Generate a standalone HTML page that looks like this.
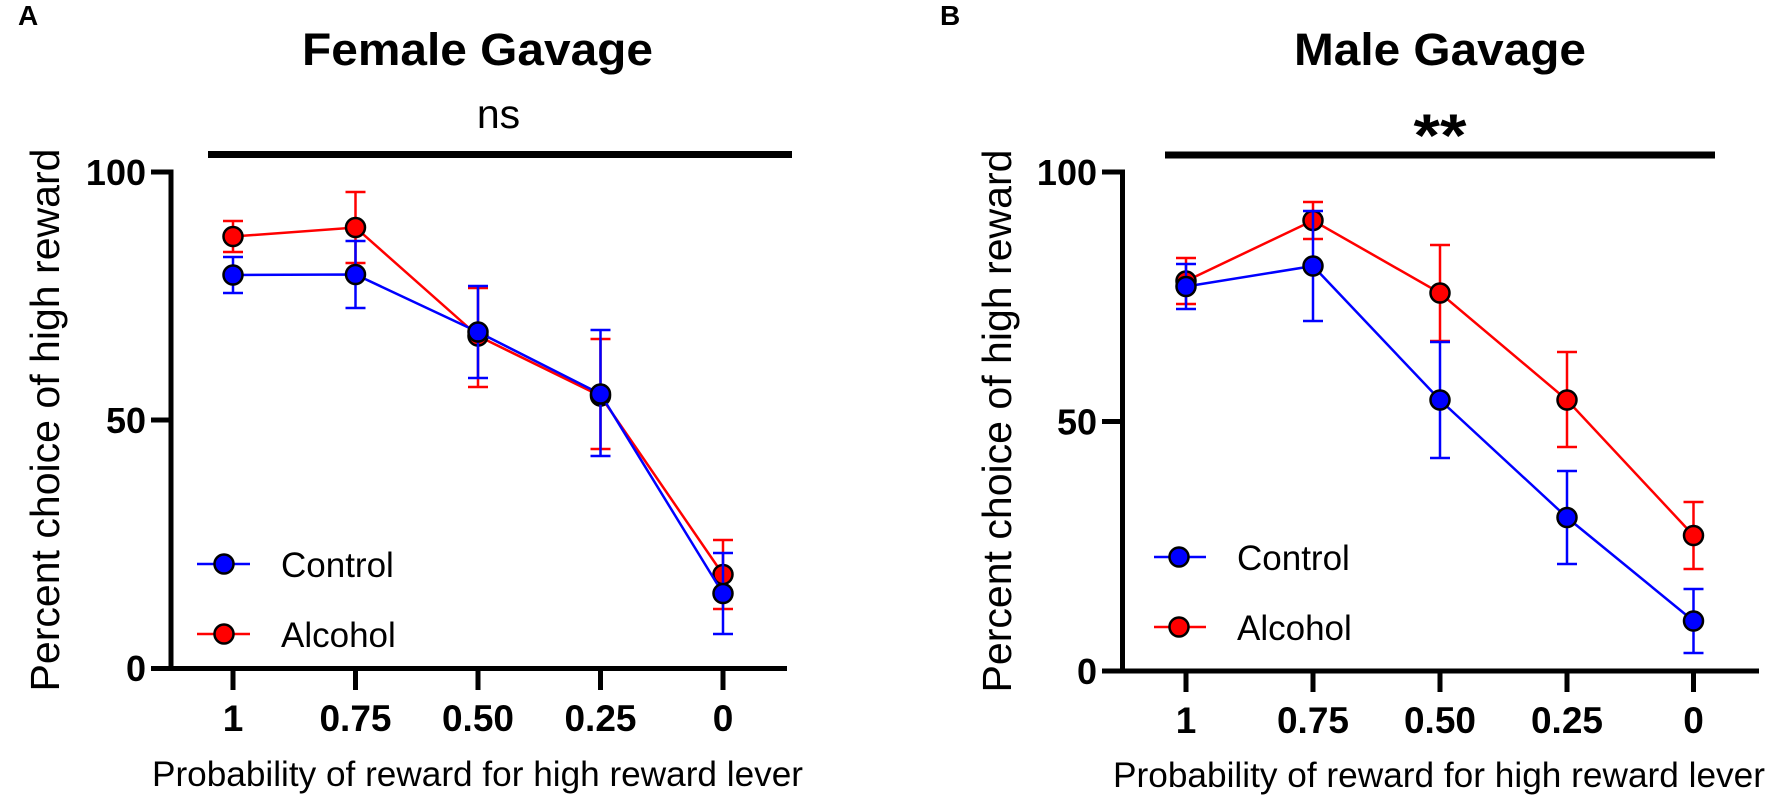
<!DOCTYPE html>
<html>
<head>
<meta charset="utf-8">
<style>
  html, body { margin: 0; padding: 0; background: #ffffff; }
  svg { display: block; }
  text { font-family: "Liberation Sans", Arial, sans-serif; fill: #000; }
</style>
</head>
<body>
<svg width="1773" height="799" viewBox="0 0 1773 799" xmlns="http://www.w3.org/2000/svg">
  <rect x="0" y="0" width="1773" height="799" fill="#fff"/>

  <!-- ================= PANEL A ================= -->
  <text x="18" y="25" font-size="28" font-weight="bold">A</text>
  <text x="477.5" y="65" font-size="45" font-weight="bold" text-anchor="middle" textLength="351" lengthAdjust="spacingAndGlyphs">Female Gavage</text>
  <text x="498.5" y="128" font-size="41" text-anchor="middle">ns</text>
  <rect x="208" y="151" width="584" height="7" fill="#000"/>

  <!-- axes -->
  <path d="M151 172 H171 V668.5" fill="none" stroke="#000" stroke-width="5" stroke-linejoin="miter"/>
  <line x1="151" y1="420" x2="171" y2="420" stroke="#000" stroke-width="5"/>
  <line x1="151" y1="668.5" x2="787" y2="668.5" stroke="#000" stroke-width="5"/>
  <g stroke="#000" stroke-width="5">
    <line x1="233" y1="668" x2="233" y2="690"/>
    <line x1="355.5" y1="668" x2="355.5" y2="690"/>
    <line x1="478" y1="668" x2="478" y2="690"/>
    <line x1="600.5" y1="668" x2="600.5" y2="690"/>
    <line x1="723" y1="668" x2="723" y2="690"/>
  </g>
  <g font-size="36" font-weight="bold" text-anchor="end">
    <text x="146" y="185">100</text>
    <text x="146" y="433">50</text>
    <text x="146" y="681">0</text>
  </g>
  <g font-size="37" font-weight="bold" text-anchor="middle">
    <text x="233" y="731">1</text>
    <text x="355.5" y="731">0.75</text>
    <text x="478" y="731">0.50</text>
    <text x="600.5" y="731">0.25</text>
    <text x="723" y="731">0</text>
  </g>
  <text x="152" y="786" font-size="35" textLength="651" lengthAdjust="spacingAndGlyphs">Probability of reward for high reward lever</text>
  <text transform="translate(59,420) rotate(-90)" font-size="41" text-anchor="middle" textLength="543" lengthAdjust="spacingAndGlyphs">Percent choice of high reward</text>

  <!-- Alcohol series (red) -->
  <g stroke="#ff0000" stroke-width="2.5" fill="none">
    <polyline points="233,236.5 355.5,227.5 478,336 600.5,396 723,574.5"/>
    <path d="M233 221 V252 M223 221 H243 M223 252 H243"/>
    <path d="M355.5 192 V263 M345.5 192 H365.5 M345.5 263 H365.5"/>
    <path d="M478 288 V387 M468 288 H488 M468 387 H488"/>
    <path d="M600.5 339 V449 M590.5 339 H610.5 M590.5 449 H610.5"/>
    <path d="M723 540 V609 M713 540 H733 M713 609 H733"/>
  </g>
  <g fill="#ff0000" stroke="#000" stroke-width="2.5">
    <circle cx="233" cy="236.5" r="9.5"/>
    <circle cx="355.5" cy="227.5" r="9.5"/>
    <circle cx="478" cy="336" r="9.5"/>
    <circle cx="600.5" cy="396" r="9.5"/>
    <circle cx="723" cy="574.5" r="9.5"/>
  </g>
  <!-- Control series (blue) -->
  <g stroke="#0000ff" stroke-width="2.5" fill="none">
    <polyline points="233,275 355.5,274.5 478,332 600.5,394 723,593.5"/>
    <path d="M233 257 V293 M223 257 H243 M223 293 H243"/>
    <path d="M355.5 241 V308 M345.5 241 H365.5 M345.5 308 H365.5"/>
    <path d="M478 286 V378 M468 286 H488 M468 378 H488"/>
    <path d="M600.5 330 V456 M590.5 330 H610.5 M590.5 456 H610.5"/>
    <path d="M723 553 V634 M713 553 H733 M713 634 H733"/>
  </g>
  <g fill="#0000ff" stroke="#000" stroke-width="2.5">
    <circle cx="233" cy="275" r="9.5"/>
    <circle cx="355.5" cy="274.5" r="9.5"/>
    <circle cx="478" cy="332" r="9.5"/>
    <circle cx="600.5" cy="394" r="9.5"/>
    <circle cx="723" cy="593.5" r="9.5"/>
  </g>

  <!-- legend A -->
  <line x1="197" y1="564" x2="250" y2="564" stroke="#0000ff" stroke-width="2.5"/>
  <circle cx="224" cy="564" r="9.5" fill="#0000ff" stroke="#000" stroke-width="2.5"/>
  <text x="281" y="577" font-size="35">Control</text>
  <line x1="197" y1="634" x2="250" y2="634" stroke="#ff0000" stroke-width="2.5"/>
  <circle cx="224" cy="634" r="9.5" fill="#ff0000" stroke="#000" stroke-width="2.5"/>
  <text x="281" y="647" font-size="35">Alcohol</text>

  <!-- ================= PANEL B ================= -->
  <text x="940" y="25" font-size="28" font-weight="bold">B</text>
  <text x="1440" y="65" font-size="45" font-weight="bold" text-anchor="middle" textLength="292" lengthAdjust="spacingAndGlyphs">Male Gavage</text>
  <text x="1440" y="156" font-size="60" font-weight="bold" text-anchor="middle" textLength="53" lengthAdjust="spacingAndGlyphs">**</text>
  <rect x="1165" y="151.5" width="550" height="7" fill="#000"/>

  <path d="M1102 172 H1122.5 V671" fill="none" stroke="#000" stroke-width="5" stroke-linejoin="miter"/>
  <line x1="1102" y1="421.5" x2="1122.5" y2="421.5" stroke="#000" stroke-width="5"/>
  <line x1="1102" y1="671" x2="1759" y2="671" stroke="#000" stroke-width="5"/>
  <g stroke="#000" stroke-width="5">
    <line x1="1186" y1="671" x2="1186" y2="692"/>
    <line x1="1313" y1="671" x2="1313" y2="692"/>
    <line x1="1440" y1="671" x2="1440" y2="692"/>
    <line x1="1567" y1="671" x2="1567" y2="692"/>
    <line x1="1693.5" y1="671" x2="1693.5" y2="692"/>
  </g>
  <g font-size="36" font-weight="bold" text-anchor="end">
    <text x="1097" y="185">100</text>
    <text x="1097" y="434.5">50</text>
    <text x="1097" y="684">0</text>
  </g>
  <g font-size="37" font-weight="bold" text-anchor="middle">
    <text x="1186" y="733">1</text>
    <text x="1313" y="733">0.75</text>
    <text x="1440" y="733">0.50</text>
    <text x="1567" y="733">0.25</text>
    <text x="1693.5" y="733">0</text>
  </g>
  <text x="1113" y="787" font-size="35" textLength="652" lengthAdjust="spacingAndGlyphs">Probability of reward for high reward lever</text>
  <text transform="translate(1011,421) rotate(-90)" font-size="41" text-anchor="middle" textLength="543" lengthAdjust="spacingAndGlyphs">Percent choice of high reward</text>

  <!-- Alcohol (red) -->
  <g stroke="#ff0000" stroke-width="2.5" fill="none">
    <polyline points="1186,281 1313,220.5 1440,293 1567,400 1693.5,535.5"/>
    <path d="M1186 258 V304 M1176 258 H1196 M1176 304 H1196"/>
    <path d="M1313 202 V239 M1303 202 H1323 M1303 239 H1323"/>
    <path d="M1440 245 V341 M1430 245 H1450 M1430 341 H1450"/>
    <path d="M1567 352 V447 M1557 352 H1577 M1557 447 H1577"/>
    <path d="M1693.5 502 V569 M1683.5 502 H1703.5 M1683.5 569 H1703.5"/>
  </g>
  <g fill="#ff0000" stroke="#000" stroke-width="2.5">
    <circle cx="1186" cy="281" r="9.5"/>
    <circle cx="1313" cy="220.5" r="9.5"/>
    <circle cx="1440" cy="293" r="9.5"/>
    <circle cx="1567" cy="400" r="9.5"/>
    <circle cx="1693.5" cy="535.5" r="9.5"/>
  </g>
  <!-- Control (blue) -->
  <g stroke="#0000ff" stroke-width="2.5" fill="none">
    <polyline points="1186,286.5 1313,266 1440,400 1567,517.5 1693.5,621"/>
    <path d="M1186 264 V309 M1176 264 H1196 M1176 309 H1196"/>
    <path d="M1313 211 V321 M1303 211 H1323 M1303 321 H1323"/>
    <path d="M1440 342 V458 M1430 342 H1450 M1430 458 H1450"/>
    <path d="M1567 471 V564 M1557 471 H1577 M1557 564 H1577"/>
    <path d="M1693.5 589 V653 M1683.5 589 H1703.5 M1683.5 653 H1703.5"/>
  </g>
  <g fill="#0000ff" stroke="#000" stroke-width="2.5">
    <circle cx="1186" cy="286.5" r="9.5"/>
    <circle cx="1313" cy="266" r="9.5"/>
    <circle cx="1440" cy="400" r="9.5"/>
    <circle cx="1567" cy="517.5" r="9.5"/>
    <circle cx="1693.5" cy="621" r="9.5"/>
  </g>

  <!-- legend B -->
  <line x1="1154" y1="557" x2="1206" y2="557" stroke="#0000ff" stroke-width="2.5"/>
  <circle cx="1179" cy="557" r="9.5" fill="#0000ff" stroke="#000" stroke-width="2.5"/>
  <text x="1237" y="570" font-size="35">Control</text>
  <line x1="1154" y1="627" x2="1206" y2="627" stroke="#ff0000" stroke-width="2.5"/>
  <circle cx="1179" cy="627" r="9.5" fill="#ff0000" stroke="#000" stroke-width="2.5"/>
  <text x="1237" y="640" font-size="35">Alcohol</text>
</svg>
</body>
</html>
